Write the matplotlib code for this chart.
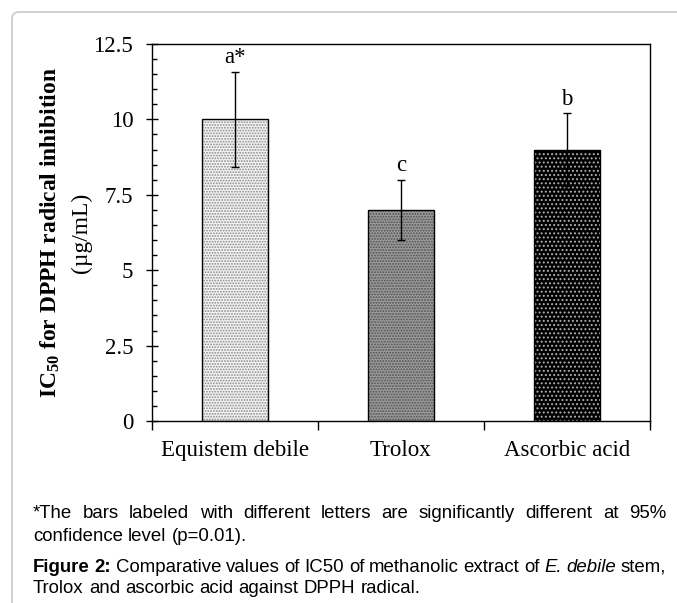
import numpy as np
import matplotlib
matplotlib.use("Agg")
import matplotlib.pyplot as plt
from matplotlib.patches import FancyBboxPatch
from matplotlib.transforms import IdentityTransform

# data
samples = ["Equistem debile", "Trolox", "Ascorbic acid"]
ic50 = [10.0, 7.0, 9.0]
ic50_err = [1.58, 1.0, 1.2]
letters = ["a*", "c", "b"]

note_line1 = "*The bars labeled with different letters are significantly different at 95%"
note_line2 = "confidence level (p=0.01)."
fig_line1 = [("Figure 2:", "bold", "normal"), ("Comparative values of IC50 of methanolic extract of", "normal", "normal"),
             ("E. debile", "normal", "italic"), ("stem,", "normal", "normal")]
fig_line2 = "Trolox and ascorbic acid against DPPH radical."

plt.rcParams["font.family"] = "Liberation Serif"
plt.rcParams["mathtext.fontset"] = "custom"
plt.rcParams["mathtext.rm"] = "Liberation Serif"
plt.rcParams["mathtext.bf"] = "Liberation Serif:bold"
plt.rcParams["hatch.linewidth"] = 0.9

W, H = 677, 603
fig = plt.figure(figsize=(W / 100, H / 100), dpi=100)
ax = fig.add_axes([152 / W, 1 - 421 / H, 498 / W, 377 / H])

# outer frame
frame = FancyBboxPatch((12, -30), 720, H - 12 + 30, boxstyle="round,pad=0,rounding_size=7",
                       transform=IdentityTransform(), fill=False, edgecolor="#c8c8c8", lw=1.2)
fig.patches.append(frame)

x = np.arange(len(samples))
faces = ["#f4f4f4", "#9a9a9a", "#000000"]
dots = ["#8a8a8a", "#505050", "#b0b0b0"]
hatches = ["......", "......", "...."]
for i in range(len(samples)):
    ax.bar(x[i], ic50[i], width=0.4, color=faces[i], hatch=hatches[i], edgecolor=dots[i], lw=0, zorder=2)
ax.bar(x, ic50, width=0.4, fill=False, edgecolor="black", lw=1.0, zorder=3)
ax.errorbar(x, ic50, yerr=ic50_err, fmt="none", ecolor="black", elinewidth=1.0, capsize=2.8, capthick=1.0, zorder=4)
for i in range(len(samples)):
    ax.annotate(letters[i], (x[i], ic50[i] + ic50_err[i]), xytext=(0, 6), textcoords="offset points",
                ha="center", va="baseline", fontsize=16.5)

ax.set_xlim(-0.5, 2.5)
ax.set_ylim(0, 12.5)
ax.set_yticks([0, 2.5, 5, 7.5, 10, 12.5])
ax.set_yticklabels(["0", "2.5", "5", "7.5", "10", "12.5"])
ax.set_yticks(np.arange(0, 12.51, 0.5), minor=True)
ax.tick_params(axis="y", which="major", direction="inout", length=9, width=1, labelsize=16.5, pad=9)
ax.tick_params(axis="y", which="minor", direction="in", length=3.8, width=1)
ax.set_xticks(x)
ax.set_xticklabels(samples)
ax.set_xticks([-0.5, 0.5, 1.5, 2.5], minor=True)
ax.tick_params(axis="x", which="major", length=0, labelsize=16.5, pad=14)
ax.tick_params(axis="x", which="minor", direction="out", length=6.5, width=1)
for s in ax.spines.values():
    s.set_linewidth(1.0)

fig.text(50 / W, 1 - 233 / H, r"$\mathbf{IC_{50}}$ for DPPH radical inhibition", rotation=90,
         ha="center", va="center", fontsize=16.9, fontweight="bold")
fig.text(81 / W, 1 - 233 / H, "(\u00b5g/mL)", rotation=90, ha="center", va="center", fontsize=16.9)

# caption
renderer = fig.canvas.get_renderer()
cap_size = 13.4


def put_line(y_base, pieces, left=33, right=None):
    objs = []
    for txt, weight, style in pieces:
        t = fig.text(0, 0, txt, transform=IdentityTransform(), fontsize=cap_size, family="Liberation Sans",
                     weight=weight, style=style, va="baseline", ha="left")
        objs.append(t)
    widths = [t.get_window_extent(renderer).width for t in objs]
    if right is None:
        gap = 0.278 * cap_size * 100 / 72
    else:
        gap = (right - left - sum(widths)) / (len(objs) - 1)
    xx = left
    for t, w in zip(objs, widths):
        t.set_position((xx, H - y_base))
        xx += w + gap


put_line(518, [(w, "normal", "normal") for w in note_line1.split()], right=666)
put_line(541, [(w, "normal", "normal") for w in note_line2.split()])
pieces = []
for txt, weight, style in fig_line1:
    for w in txt.split():
        pieces.append((w, weight, style))
put_line(572, pieces, right=666)
put_line(593, [(w, "normal", "normal") for w in fig_line2.split()])

fig.savefig("out.png", dpi=100)
